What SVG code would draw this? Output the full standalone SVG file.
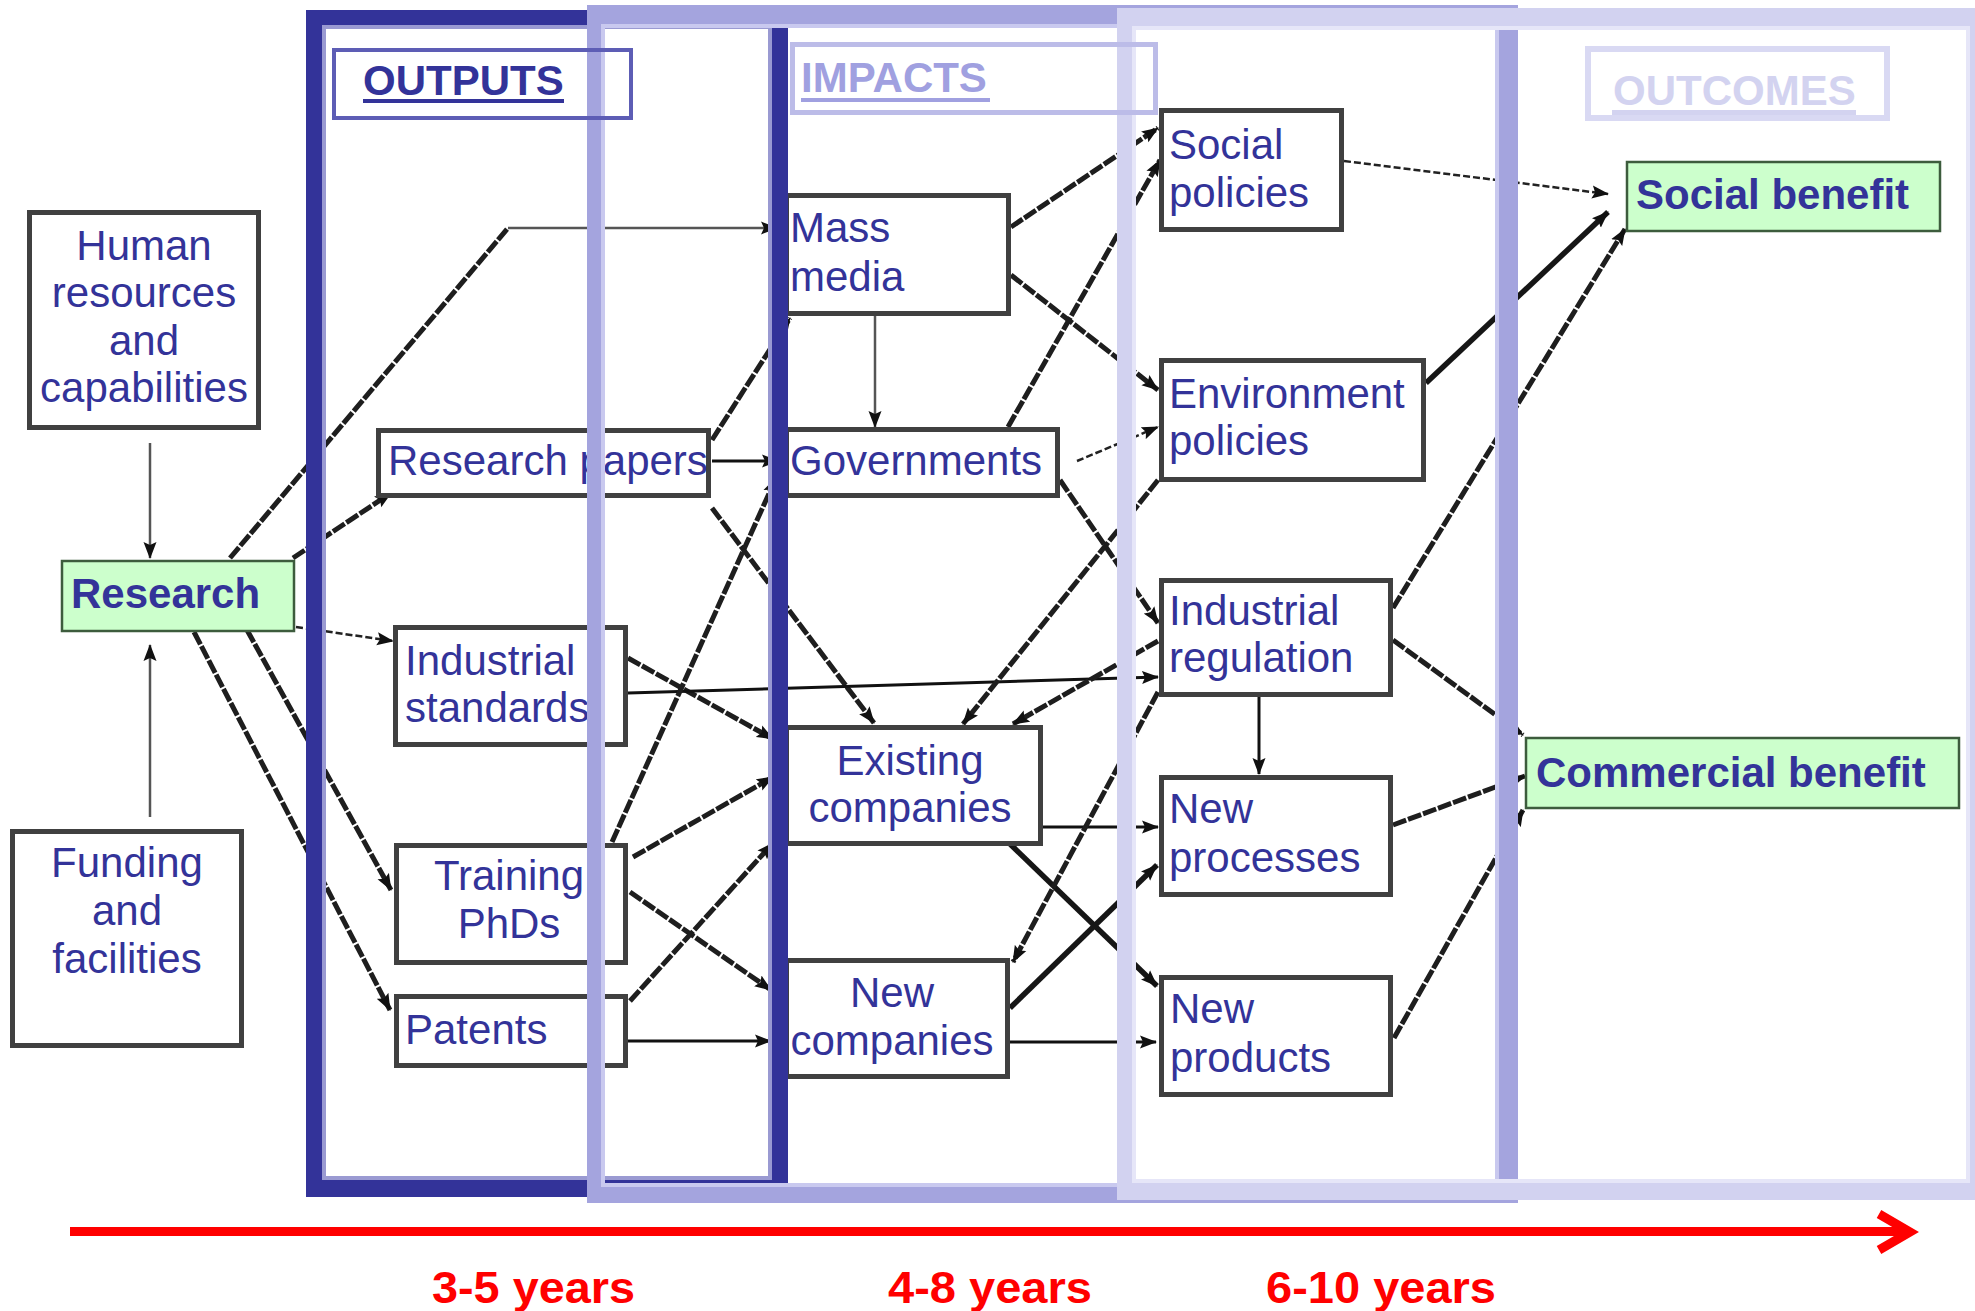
<svg xmlns="http://www.w3.org/2000/svg" width="1975" height="1311" viewBox="0 0 1975 1311">
<style>
  .box{fill:#fff;stroke:#404040;stroke-width:5}
  .gbox{fill:#ccffcc;stroke:#3d5c3d;stroke-width:2.5}
  .t{font-family:"Liberation Sans",Arial,sans-serif;font-size:42px;fill:#333399}
  .b{font-weight:bold}
  .c{text-anchor:middle}
  .thk{fill:none;stroke:#1e1e1e;stroke-width:5;stroke-dasharray:14 2;marker-end:url(#ah)}
  .thkn{fill:none;stroke:#1e1e1e;stroke-width:5;stroke-dasharray:14 2}
  .bold{fill:none;stroke:#161616;stroke-width:5.5;marker-end:url(#ah)}
  .sol{fill:none;stroke:#555;stroke-width:2.5;marker-end:url(#ah)}
  .blk{fill:none;stroke:#111;stroke-width:3;marker-end:url(#ah)}
  .dsh{fill:none;stroke:#222;stroke-width:2.5;stroke-dasharray:7 3;marker-end:url(#ah)}
  .yr{font-family:"Liberation Sans",Arial,sans-serif;font-size:44px;font-weight:bold;fill:#ff0000}
  .lbl{font-family:"Liberation Sans",Arial,sans-serif;font-size:42px;font-weight:bold}
</style>
<defs>
  <marker id="ah" markerUnits="userSpaceOnUse" markerWidth="17" markerHeight="14" viewBox="0 0 17 14" refX="16" refY="7" orient="auto">
    <path d="M0,0.5 L17,7 L0,13.5 L3,7 Z" fill="#111"/>
  </marker>
</defs>

<rect width="1975" height="1311" fill="#fff"/>

<!-- connectors -->
<g id="connectors">
  <path class="sol" d="M150,443 V558"/>
  <path class="sol" d="M150,817 V645"/>
  <path class="thkn" d="M230,558 L508,228"/>
  <path class="sol" d="M508,228 H777"/>
  <path class="thk" d="M293,558 L391,493"/>
  <path class="dsh" d="M296,627 L393,641"/>
  <path class="thk" d="M247,630 L391,890"/>
  <path class="thk" d="M194,632 L390,1010"/>
  <path class="blk" d="M712,461 H778"/>
  <path class="thk" d="M712,440 L790,318"/>
  <path class="thk" d="M712,508 L874,723"/>
  <path class="thk" d="M628,658 L773,739"/>
  <path class="blk" d="M628,693 L1158,677"/>
  <path class="thk" d="M612,842 L776,478"/>
  <path class="thk" d="M633,857 L773,777"/>
  <path class="thk" d="M630,892 L771,990"/>
  <path class="thk" d="M630,1001 L773,843"/>
  <path class="blk" d="M628,1041 H771"/>
  <path class="sol" d="M875,316 V427"/>
  <path class="thk" d="M1011,227 L1158,128"/>
  <path class="thk" d="M1011,275 L1158,390"/>
  <path class="thk" d="M1008,427 L1160,160"/>
  <path class="dsh" d="M1077,461 L1158,427"/>
  <path class="thk" d="M1060,480 L1158,623"/>
  <path class="thk" d="M1158,480 L963,724"/>
  <path class="thk" d="M1158,641 L1013,724"/>
  <path class="blk" d="M1043,827 H1158"/>
  <path class="bold" d="M1008,842 L1157,986"/>
  <path class="thk" d="M1158,692 L1013,962"/>
  <path class="bold" d="M1010,1008 L1157,865"/>
  <path class="blk" d="M1009,1042 H1156"/>
  <path class="blk" d="M1259,693 V774"/>
  <path class="dsh" d="M1344,161 L1608,194"/>
  <path class="bold" d="M1426,383 L1608,212"/>
  <path class="thk" d="M1393,608 L1625,229"/>
  <path class="thk" d="M1393,640 L1523,735"/>
  <path class="thk" d="M1393,825 L1525,776"/>
  <path class="thk" d="M1394,1038 L1523,810"/>
</g>

<!-- inputs -->
<g id="human-resources">
  <rect class="box" x="29.5" y="212.5" width="229" height="215"/>
  <text class="t c" x="144" y="260">Human</text>
  <text class="t c" x="144" y="307">resources</text>
  <text class="t c" x="144" y="355">and</text>
  <text class="t c" x="144" y="402">capabilities</text>
</g>
<g id="research">
  <rect class="gbox" x="62" y="561" width="232" height="70"/>
  <text class="t b" x="71" y="608">Research</text>
</g>
<g id="funding">
  <rect class="box" x="12.5" y="831.5" width="229" height="214"/>
  <text class="t c" x="127" y="877">Funding</text>
  <text class="t c" x="127" y="925">and</text>
  <text class="t c" x="127" y="973">facilities</text>
</g>

<!-- outputs -->
<g id="research-papers">
  <rect class="box" x="378.5" y="430.5" width="330" height="65"/>
  <text class="t" x="388" y="475">Research papers</text>
</g>
<g id="industrial-standards">
  <rect class="box" x="395.5" y="627.5" width="230" height="117"/>
  <text class="t" x="405" y="675">Industrial</text>
  <text class="t" x="405" y="722">standards</text>
</g>
<g id="training-phds">
  <rect class="box" x="396.5" y="845.5" width="229" height="117"/>
  <text class="t c" x="509" y="890">Training</text>
  <text class="t c" x="509" y="938">PhDs</text>
</g>
<g id="patents">
  <rect class="box" x="396.5" y="996.5" width="229" height="69"/>
  <text class="t" x="405" y="1044">Patents</text>
</g>

<!-- impacts -->
<g id="mass-media">
  <rect class="box" x="786.5" y="195.5" width="222" height="118"/>
  <text class="t" x="790" y="242">Mass</text>
  <text class="t" x="790" y="291">media</text>
</g>
<g id="governments">
  <rect class="box" x="786.5" y="429.5" width="271" height="66"/>
  <text class="t" x="790" y="475">Governments</text>
</g>
<g id="existing-companies">
  <rect class="box" x="786.5" y="727.5" width="254" height="116"/>
  <text class="t c" x="910" y="775">Existing</text>
  <text class="t c" x="910" y="822">companies</text>
</g>
<g id="new-companies">
  <rect class="box" x="786.5" y="960.5" width="221" height="116"/>
  <text class="t c" x="892" y="1007">New</text>
  <text class="t c" x="892" y="1055">companies</text>
</g>

<!-- policies and products -->
<g id="social-policies">
  <rect class="box" x="1161.5" y="110.5" width="180" height="119"/>
  <text class="t" x="1169" y="159">Social</text>
  <text class="t" x="1169" y="207">policies</text>
</g>
<g id="environment-policies">
  <rect class="box" x="1161.5" y="360.5" width="262" height="119"/>
  <text class="t" x="1169" y="408">Environment</text>
  <text class="t" x="1169" y="455">policies</text>
</g>
<g id="industrial-regulation">
  <rect class="box" x="1161.5" y="580.5" width="229" height="114"/>
  <text class="t" x="1169" y="625">Industrial</text>
  <text class="t" x="1169" y="672">regulation</text>
</g>
<g id="new-processes">
  <rect class="box" x="1161.5" y="777.5" width="229" height="117"/>
  <text class="t" x="1169" y="823">New</text>
  <text class="t" x="1169" y="872">processes</text>
</g>
<g id="new-products">
  <rect class="box" x="1161.5" y="977.5" width="229" height="117"/>
  <text class="t" x="1170" y="1023">New</text>
  <text class="t" x="1170" y="1072">products</text>
</g>

<!-- outcomes -->
<g id="social-benefit">
  <rect class="gbox" x="1627" y="162" width="313" height="69"/>
  <text class="t b" x="1636" y="209">Social benefit</text>
</g>
<g id="commercial-benefit">
  <rect class="gbox" x="1526" y="738" width="433" height="70"/>
  <text class="t b" x="1536" y="787">Commercial benefit</text>
</g>

<!-- phase frames, drawn over the network -->
<g id="frame-outputs">
  <path fill="#333399" fill-rule="evenodd" d="M306,10 H788 V1197 H306 Z M322,25 V1180 H772 V25 Z"/>
  <rect x="324" y="27" width="446" height="1151" fill="none" stroke="#9a9ad2" stroke-width="4"/>
</g>
<g id="frame-impacts">
  <path fill="#a4a4de" fill-rule="evenodd" d="M587,5 H1518 V1203 H587 Z M601,24 V1187 H1499 V24 Z"/>
  <rect x="603" y="26" width="894" height="1159" fill="none" stroke="#c9c9ef" stroke-width="4"/>
</g>
<g id="frame-outcomes">
  <path fill="#d2d2f0" fill-rule="evenodd" d="M1117,8 H1995 V1200 H1117 Z M1132,26 V1183 H1970 V26 Z"/>
  <rect x="1134" y="28" width="834" height="1153" fill="none" stroke="#e6e6f8" stroke-width="4"/>
</g>

<!-- phase labels -->
<g id="label-outputs">
  <rect x="334" y="50" width="297" height="68" fill="none" stroke="#5d5db5" stroke-width="4"/>
  <text class="lbl" x="363" y="95" fill="#333399">OUTPUTS</text>
  <rect x="363" y="99" width="201" height="4" fill="#333399"/>
</g>
<g id="label-impacts">
  <rect x="792.5" y="44.5" width="363" height="68" fill="none" stroke="#bcbce8" stroke-width="5"/>
  <text class="lbl" x="801" y="92" fill="#a0a0e0">IMPACTS</text>
  <rect x="801" y="98" width="189" height="4" fill="#a0a0e0"/>
</g>
<g id="label-outcomes">
  <rect x="1588" y="49" width="299" height="69" fill="none" stroke="#d9d9f3" stroke-width="6"/>
  <text class="lbl" x="1613" y="105" fill="#d3d3f0">OUTCOMES</text>
  <rect x="1612" y="110" width="244" height="5" fill="#d3d3f0"/>
</g>

<!-- time axis -->
<g id="timeline">
  <line x1="70" y1="1231.5" x2="1906" y2="1231.5" stroke="#ff0000" stroke-width="9"/>
  <polyline points="1879,1214 1910,1232 1879,1250" fill="none" stroke="#ff0000" stroke-width="9"/>
  <text class="yr" x="432" y="1303" textLength="203" lengthAdjust="spacingAndGlyphs">3-5 years</text>
  <text class="yr" x="888" y="1303" textLength="204" lengthAdjust="spacingAndGlyphs">4-8 years</text>
  <text class="yr" x="1266" y="1303" textLength="230" lengthAdjust="spacingAndGlyphs">6-10 years</text>
</g>
</svg>
